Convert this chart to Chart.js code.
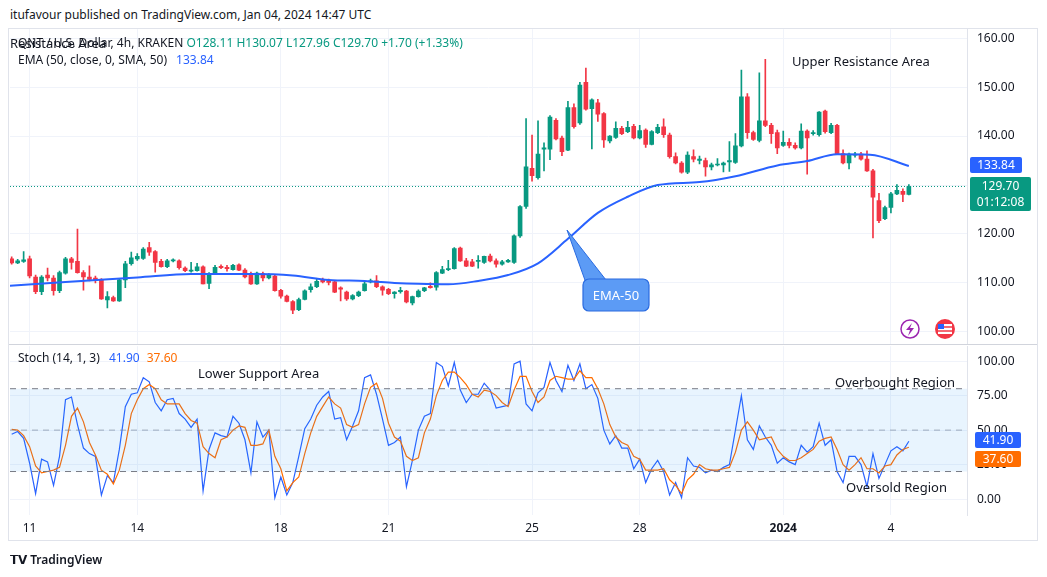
<!DOCTYPE html>
<html><head><meta charset="utf-8">
<script src="https://cdn.jsdelivr.net/npm/chart.js@4.4.1/dist/chart.umd.min.js"></script>
<style>
body{margin:0;width:1047px;height:577px;background:#fff;font-family:"Noto Sans",sans-serif;color:#131722;position:relative;overflow:hidden}
.t{position:absolute;white-space:nowrap}
#c1{position:absolute;left:0;top:12px}
#c2{position:absolute;left:0;top:329px}
.box{position:absolute;color:#fff;font-size:12px;text-align:center;line-height:16px;border-radius:2px}
</style></head><body>
<div class="t" style="left:10px;top:6px;font-size:12px">itufavour published on TradingView.com, Jan 04, 2024 14:47 UTC</div>
<div style="position:absolute;left:8px;top:28px;width:1030px;height:513px;border:1px solid #e0e3eb;box-sizing:border-box"></div>
<div style="position:absolute;left:9px;top:344px;width:1028px;height:1px;background:#d1d4dc"></div>
<canvas id="c1" width="1040" height="349"></canvas>
<canvas id="c2" width="1040" height="211"></canvas>
<div class="t" style="left:10px;top:34px;font-size:13px;color:#131722">Resistance Area</div>
<div class="t" style="left:18px;top:34px;font-size:12px"><span style="color:#131722">QNT / U.S. Dollar, 4h, KRAKEN</span> <span style="color:#089981">O128.11 H130.07 L127.96 C129.70 +1.70 (+1.33%)</span></div>
<div class="t" style="left:18px;top:51px;font-size:12px">EMA (50, close, 0, SMA, 50) <span style="color:#2962ff;margin-left:6px">133.84</span></div>
<div class="t" style="left:792px;top:52px;font-size:13px">Upper Resistance Area</div>
<div class="t" style="left:18px;top:349px;font-size:12px">Stoch (14, 1, 3) <span style="color:#2962ff;margin-left:6px">41.90</span> <span style="color:#ff6d00;margin-left:4px">37.60</span></div>
<div class="t" style="left:198px;top:364px;font-size:13px">Lower Support Area</div>
<div class="t" style="left:835px;top:373px;font-size:13px">Overbought Region</div>
<div class="t" style="left:846px;top:478px;font-size:13px">Oversold Region</div>
<svg style="position:absolute;left:0;top:0" width="1047" height="577">
<polygon points="567,230 586,283 606,280" fill="#5c9bf5" stroke="#2a6be0" stroke-width="1"/>
<rect x="583" y="279" width="66" height="32" rx="6" fill="#5c9bf5" stroke="#2a6be0" stroke-width="1.2"/>
<text x="616" y="300" fill="#fff" font-size="13" text-anchor="middle" font-family="Noto Sans">EMA-50</text>
<circle cx="910" cy="329" r="9" fill="#fff" stroke="#9c27b0" stroke-width="1.5"/>
<path d="M912,323 L906,330 L910,330 L908,336 L914,328 L910,328 Z" fill="#9c27b0"/>
<circle cx="945" cy="329" r="10" fill="#f23645"/>
<rect x="938" y="324" width="14" height="10" fill="#fff"/>
<line x1="938" y1="327" x2="952" y2="327" stroke="#f23645" stroke-width="1.5"/><line x1="938" y1="331" x2="952" y2="331" stroke="#f23645" stroke-width="1.5"/>
<rect x="938" y="324" width="6" height="5" fill="#2962ff"/>
</svg>
<div class="t" style="left:10px;top:551px;font-size:12px;font-weight:bold">𝗧𝗩 <span style="font-weight:600">TradingView</span></div>
<div class="box" style="left:970px;top:157px;width:52px;background:#2962ff">133.84</div>
<div class="box" style="left:970px;top:177px;width:61px;background:#089981;padding:1px 0">129.70<br>01:12:08</div>
<div class="box" style="left:975px;top:432px;width:46px;background:#2962ff">41.90</div>
<div class="box" style="left:975px;top:451px;width:46px;background:#ff6d00">37.60</div>
<script>
const ohlc=[[114.9,115.3,113.8,114.1],[114.1,114.8,113.9,114.5],[114.5,116.4,114.2,114.6],[114.9,115.5,111.0,111.4],[111.2,111.6,107.8,108.2],[108.2,111.5,107.6,111.2],[111.6,113.0,110.4,111.0],[111.0,111.5,107.5,108.4],[108.4,112.4,108.0,112.1],[112.0,115.2,111.8,114.9],
[114.9,115.2,112.8,114.2],[114.4,121.0,112.0,112.1],[112.1,112.5,108.5,111.2],[111.2,113.5,110.4,110.7],[111.0,111.4,110.0,110.5],[110.5,110.9,106.6,106.7],[106.5,108.2,104.9,107.2],[107.0,107.3,106.2,106.3],[106.3,110.8,106.2,110.6],[110.6,114.4,109.0,113.9],
[113.9,116.3,113.6,115.1],[114.9,116.0,114.6,115.4],[115.0,117.2,114.8,116.9],[117.2,118.3,115.6,116.3],[116.4,116.6,112.2,114.2],[114.4,114.8,113.2,113.3],[113.3,114.8,113.1,114.5],[114.6,114.9,114.3,114.6],[114.5,114.7,112.8,113.1],[113.0,113.3,112.3,112.5],
[112.5,114.2,112.2,112.5],[112.5,114.0,112.4,113.3],[113.3,113.5,109.8,109.8],[109.9,112.1,108.8,111.9],[112.0,113.6,111.8,113.2],[113.4,113.7,112.9,113.1],[113.1,113.6,112.4,113.0],[112.7,113.8,112.6,113.6],[113.7,113.9,112.5,112.6],[112.6,112.9,111.0,111.2],
[111.9,112.2,109.7,109.8],[109.8,112.2,109.7,112.0],[111.9,112.2,110.4,111.0],[111.0,111.9,110.8,111.7],[111.4,111.6,108.3,108.4],[108.5,108.7,106.9,107.3],[107.3,107.5,106.1,106.2],[106.2,106.4,103.7,104.4],[104.5,106.9,104.3,106.6],[106.6,108.6,106.5,108.4],
[108.6,109.8,108.1,109.2],[109.2,110.9,109.0,110.3],[110.4,111.0,110.0,110.3],[110.3,110.8,109.6,110.2],[110.2,110.5,108.0,108.1],[108.9,109.2,106.3,108.8],[108.1,108.3,106.4,106.7],[106.7,107.6,106.5,107.4],[107.4,108.3,107.2,108.1],[108.4,110.3,108.3,109.8],
[110.3,110.8,110.0,110.3],[110.4,111.5,109.0,109.2],[109.2,109.4,107.5,108.5],[108.7,108.9,107.6,107.8],[107.9,108.2,106.9,108.0],[108.3,109.1,107.9,108.4],[108.3,108.5,105.9,106.1],[105.9,107.3,105.5,107.2],[107.2,108.6,107.1,108.3],[108.4,109.1,108.2,109.0],
[109.3,110.0,108.9,109.0],[109.1,112.3,108.5,112.1],[112.0,113.4,111.9,112.7],[112.7,114.6,112.5,112.9],[112.9,117.2,112.8,117.0],[117.1,117.3,114.4,114.5],[114.5,115.0,113.3,113.4],[114.3,114.8,113.3,113.4],[114.5,115.6,113.0,114.5],[114.2,115.5,114.0,115.4],
[115.5,115.9,114.3,114.5],[114.5,114.9,113.2,113.8],[113.8,114.6,113.6,114.3],[114.4,114.8,114.2,114.5],[114.2,119.8,114.0,119.6],[119.6,125.8,119.3,125.6],[125.6,143.6,125.2,133.7],[133.4,140.2,130.8,131.9],[131.5,143.1,131.2,136.3],[137.4,138.6,132.9,137.5],
[137.3,144.2,135.2,143.9],[143.2,143.6,139.2,139.4],[139.6,140.0,136.0,136.8],[137.1,147.1,137.0,145.8],[145.8,146.6,141.6,141.9],[142.7,151.0,142.4,150.4],[151.0,153.9,145.3,145.5],[145.6,147.6,137.4,147.4],[146.8,147.5,143.0,144.5],[144.6,144.8,137.7,139.2],
[139.0,140.1,138.6,140.0],[139.7,142.9,139.5,141.6],[141.6,142.0,140.3,140.5],[140.9,143.0,140.7,141.8],[142.0,142.4,139.4,139.6],[139.6,142.2,139.4,141.1],[141.2,141.5,137.7,138.3],[138.3,141.1,138.2,140.9],[140.7,142.4,140.5,141.8],[141.9,143.5,139.7,140.3],
[140.2,140.6,135.5,135.8],[135.8,136.6,134.3,134.5],[134.5,134.8,132.4,132.6],[132.6,136.8,132.3,136.1],[135.8,137.2,134.7,135.3],[135.1,135.9,134.3,135.2],[135.0,135.5,131.8,133.7],[133.7,134.5,133.1,134.1],[134.2,135.4,133.9,134.2],[134.1,134.7,132.7,134.5],
[134.8,138.9,132.8,134.9],[134.6,140.5,134.4,138.0],[138.0,153.5,137.8,148.0],[148.0,148.7,139.5,140.7],[140.7,141.0,139.1,139.3],[139.1,152.9,138.8,143.1],[143.1,155.7,141.9,142.2],[142.2,142.6,138.5,140.5],[140.7,141.2,136.4,137.6],[138.1,141.0,137.9,138.7],
[138.7,139.5,137.6,138.1],[138.1,138.6,137.3,137.6],[137.6,142.5,137.4,141.0],[141.0,141.3,132.2,139.6],[140.6,141.1,140.2,140.6],[140.3,145.0,140.0,144.9],[145.1,145.3,140.6,140.9],[140.7,142.6,140.5,142.2],[142.2,142.4,136.2,136.4],[136.4,137.2,134.3,134.5],
[134.5,136.5,133.3,136.3],[136.2,136.7,135.7,136.2],[136.3,136.7,135.1,135.3],[135.3,137.0,132.8,132.9],[132.9,133.2,119.2,127.5],[126.8,128.3,122.3,122.7],[123.1,125.7,122.9,125.4],[125.4,128.5,124.3,128.2],[128.2,130.1,128.0,128.9],[128.7,129.2,126.6,128.1],
[128.1,130.07,127.96,129.7]];
const emaIdx=[0.7,10,22,31,41,48,54,60,65,69,74,79,84,89,94,99,104,109,116,122,129,134,139,144.5,151];
const emaVal=[109.4,110.2,111.1,111.8,111.8,111.5,110.6,110.4,110.0,109.8,109.7,110.4,111.6,114.0,119.0,124.3,127.6,130.0,130.6,131.8,134.0,134.9,136.3,136.2,133.9];
const stochK=[47,49,44,26,4,29,27,10,31,72,74,54,37,33,31,3,17,12,36,67,76,77,88,85,70,64,72,73,62,58,52,58,6,36,48,46,45,60,55,43,19,56,45,50,1,16,3,12,31,51,58,68,74,78,58,59,43,53,64,88,90,76,58,39,41,45,9,28,50,60,62,99,96,82,99,79,
70,76,76,84,79,66,67,68,98,100,69,64,77,81,99,86,78,97,86,98,80,83,73,50,40,46,37,37,22,29,12,22,28,20,3,12,1,30,24,23,19,21,20,23,25,50,75,43,36,53,45,39,26,30,27,25,39,34,38,55,39,43,20,12,31,31,25,9,33,15,25,35,38,35,41.9];
const stochD=[50.5,50,46,38,24,19,20,21,23,39,60,66,56,41,32,21,18,11,21,39,62,72,80,83,80,72,69,69,69,62,57,55,38,33,30,43,45,50,53,52,39,39,40,50,31,22,6,12,16,33,48,60,67,74,69,66,54,52,54,69,81,84,73,55,45,42,31,28,30,48,58,75,86,92,92,
88,83,76,74,79,78,75,70,67,79,89,89,78,70,74,86,89,88,87,87,93,88,88,80,69,54,45,41,39,31,29,21,21,21,22,14,10,4,14,18,25,22,21,21,22,23,34,50,56,50,43,44,45,36,31,28,28,30,33,36,42,44,45,36,25,21,25,30,22,22,19,24,25,32,36,37.6];
const dayIdx=[4,22,46,64,88,106,130,148];
const dayLbl=['11','14','18','21','25','28','2024','4'];
const priceTicks=[100,110,120,130,140,150,160];
const stochTicks=[0,25,50,75,100];
const lastPrice=129.7;

const GREEN='#089981',RED='#f23645',GRID='#f0f3fa',XMIN=0.72,XMAX=160.72;
const col=i=>ohlc[i][3]>=ohlc[i][0]?GREEN:RED;
const wicks=ohlc.map((c,i)=>({x:i+1,y:[c[2],c[1]]}));
const bodies=ohlc.map((c,i)=>{let a=Math.min(c[0],c[3]),b=Math.max(c[0],c[3]);if(b-a<0.2){a-=0.1;b+=0.1;}return {x:i+1,y:[a,b]};});
const xScale=(show)=>({type:'linear',min:XMIN,max:XMAX,offset:false,
  afterBuildTicks:a=>{a.ticks=dayIdx.map(v=>({value:v}));},
  ticks:{display:show,autoSkip:false,maxRotation:0,color:'#131722',padding:6,font:c=>({family:'Noto Sans',size:12,weight:dayLbl[dayIdx.indexOf(c.tick&&c.tick.value)]==='2024'?'bold':'normal'}),
    callback:v=>{const k=dayIdx.indexOf(v);return k<0?'':dayLbl[k];}},
  grid:{color:GRID,drawTicks:false,offset:false},border:{display:false},
  afterFit:s=>{s.height=show?25:0;}});
const yScale=(min,max,ticks)=>({position:'right',min,max,
  afterBuildTicks:a=>{a.ticks=ticks.map(v=>({value:v}));},
  ticks:{color:'#131722',font:{family:'Noto Sans',size:12},padding:10,callback:v=>v.toFixed(2)},
  grid:{color:GRID,drawTicks:false},border:{color:'#e0e3eb'},
  afterFit:s=>{s.width=73;}});
const common={responsive:false,animation:false,events:[],plugins:{legend:{display:false},tooltip:{enabled:false}},layout:{padding:{left:10,right:0,top:0,bottom:0}}};

new Chart(document.getElementById('c1'),{data:{datasets:[
 {type:'line',data:[{x:XMIN,y:lastPrice},{x:XMAX,y:lastPrice}],borderColor:GREEN,borderWidth:1,borderDash:[1,2],pointRadius:0},
 {type:'line',data:emaIdx.map((x,i)=>({x,y:emaVal[i]})),borderColor:'#2962ff',borderWidth:2,pointRadius:0,cubicInterpolationMode:'monotone'},
 {type:'bar',data:wicks,backgroundColor:ohlc.map((c,i)=>col(i)),barThickness:1,grouped:false},
 {type:'bar',data:bodies,backgroundColor:ohlc.map((c,i)=>col(i)),barThickness:4,grouped:false}
]},options:{...common,scales:{x:xScale(false),y:yScale(97.55,161.84,priceTicks)}}});

const flat=v=>[{x:XMIN,y:v},{x:XMAX,y:v}];
new Chart(document.getElementById('c2'),{type:'line',data:{datasets:[
 {data:flat(80),borderColor:'#787b86',borderWidth:1,borderDash:[6,5],pointRadius:0,fill:false},
 {data:flat(20),borderColor:'#787b86',borderWidth:1,borderDash:[6,5],pointRadius:0,fill:'-1',backgroundColor:'rgba(33,150,243,0.1)'},
 {data:flat(50),borderColor:'rgba(120,123,134,0.6)',borderWidth:1,borderDash:[6,5],pointRadius:0,fill:false},
 {data:stochD.map((v,i)=>({x:i+1,y:v})),borderColor:'#ff6d00',borderWidth:1.2,pointRadius:0,fill:false},
 {data:stochK.map((v,i)=>({x:i+1,y:v})),borderColor:'#2962ff',borderWidth:1.2,pointRadius:0,fill:false}
]},options:{...common,scales:{x:xScale(true),y:yScale(-11.5,110.8,stochTicks)}}});
</script>
</body></html>
